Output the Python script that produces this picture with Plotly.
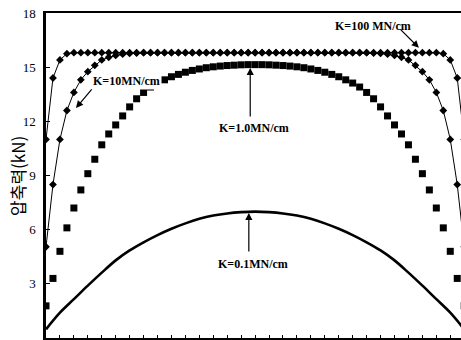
import plotly.graph_objects as go

# x positions (point index along the beam)
x_idx = list(range(61))
x_half = list(range(0, 61, 2))

k100 = [11.0, 14.4, 15.4, 15.75] + [15.8] * 53 + [15.75, 15.4, 14.4, 11.0]
k10 = [5.05, 8.5, 11.0, 12.6, 13.6, 14.3, 14.75, 15.1, 15.4, 15.55, 15.65, 15.72, 15.76, 15.78, 15.8,
       15.8, 15.8, 15.8, 15.8, 15.8, 15.8, 15.8, 15.8, 15.8, 15.8, 15.8, 15.8, 15.8, 15.8, 15.8, 15.8,
       15.8, 15.8, 15.8, 15.8, 15.8, 15.8, 15.8, 15.8, 15.8, 15.8, 15.8, 15.8, 15.8, 15.8, 15.8,
       15.8, 15.78, 15.76, 15.72, 15.65, 15.55, 15.4, 15.1, 14.75, 14.3, 13.6, 12.6, 11.0, 8.5, 5.05]
k1 = [1.78, 3.3, 4.8, 6.1, 7.2, 8.2, 9.1, 9.9, 10.7, 11.3, 11.8, 12.3, 12.8, 13.25, 13.6, 13.9,
      14.12, 14.3, 14.47, 14.6, 14.72, 14.82, 14.9, 14.97, 15.02, 15.06, 15.09, 15.11, 15.13, 15.14,
      15.14,
      15.14, 15.13, 15.11, 15.09, 15.06, 15.02, 14.97, 14.9, 14.82, 14.72, 14.6, 14.47, 14.3, 14.12,
      13.9, 13.6, 13.25, 12.8, 12.3, 11.8, 11.3, 10.7, 9.9, 9.1, 8.2, 7.2, 6.1, 4.8, 3.3, 1.78]
k01 = [0.48, 1.4, 2.15, 2.9, 3.62, 4.3, 4.85, 5.3, 5.7, 6.05, 6.35, 6.6, 6.78, 6.9, 6.97, 7.0,
       6.97, 6.9, 6.78, 6.6, 6.35, 6.05, 5.7, 5.3, 4.85, 4.3, 3.62, 2.9, 2.15, 1.4, 0.48]

y_ticks = [0, 3, 6, 9, 12, 15, 18]

fig = go.Figure()
fig.add_trace(go.Scatter(x=x_half, y=k01, mode="lines", line=dict(color="black", width=2.6, shape="spline"),
                         showlegend=False))
fig.add_trace(go.Scatter(x=x_idx, y=k1, mode="markers",
                         marker=dict(symbol="square", size=7, color="black"), showlegend=False))
fig.add_trace(go.Scatter(x=x_idx, y=k10, mode="lines+markers", line=dict(color="black", width=1),
                         marker=dict(symbol="diamond", size=6, color="black"), showlegend=False))
fig.add_trace(go.Scatter(x=x_idx, y=k100, mode="lines+markers", line=dict(color="black", width=1),
                         marker=dict(symbol="diamond", size=6, color="black"), showlegend=False))

lab_font = dict(family="Liberation Serif", size=12, color="black")

def label(text, x, y):
    fig.add_annotation(x=x, y=y, xref="x", yref="y", text="<b>%s</b>" % text, showarrow=False,
                       font=lab_font, bgcolor="white")

def arrow(x, y, ax, ay):
    fig.add_annotation(x=x, y=y, xref="x", yref="y", text="", showarrow=True, ax=ax, ay=ay,
                       arrowhead=2, arrowsize=1.2, arrowwidth=1.2, arrowcolor="black")

label("K=100 MN/cm", 46.9, 17.28)
arrow(53.5, 16.07, -20, -20)
label("K=10MN/cm", 11.5, 14.24)
arrow(4.3, 12.74, 17, -20)
arrow(29.3, 14.96, 0, 50)
label("K=1.0MN/cm", 29.85, 11.63)
arrow(29.1, 6.93, 0, 40)
label("K=0.1MN/cm", 29.75, 4.12)

fig.add_annotation(xref="paper", yref="paper", x=-0.075, y=0.5, xshift=-12, text="압축력(kN)", textangle=-90,
                   showarrow=False, font=dict(family="Noto Sans CJK KR", size=17, color="black"))

fig.update_layout(
    width=461, height=340,
    margin=dict(l=46, r=0, t=13, b=2),
    paper_bgcolor="white", plot_bgcolor="white",
    xaxis=dict(range=[0, 59.54], showgrid=False, zeroline=False, showticklabels=False,
               showline=True, linecolor="black", linewidth=2, mirror=True,
               ticks="inside", ticklen=3, tickcolor="black", dtick=2),
    yaxis=dict(range=[0, 18], tickvals=y_ticks, showgrid=False, zeroline=False,
               showline=True, linecolor="black", linewidth=2.5, mirror=False,
               ticks="inside", ticklen=4, tickcolor="black", ticklabelstandoff=5,
               tickfont=dict(family="Liberation Serif", size=13, color="black")),
)

fig.write_html("out.html")
